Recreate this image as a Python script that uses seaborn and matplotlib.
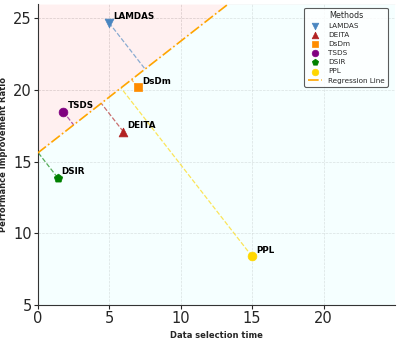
import numpy as np
import pandas as pd
import seaborn as sns
import matplotlib.pyplot as plt

# data
methods = ['LAMDAS', 'DEITA', 'DsDm', 'TSDS', 'DSIR', 'PPL']
sel_time = [5.0, 6.0, 7.0, 1.8, 1.4, 15.0]
perf_ratio = [24.7, 17.1, 20.2, 18.5, 13.9, 8.4]
colors = ['#4a86c0', '#b22222', '#ff8c00', '#800080', '#008000', '#ffd700']
markers = ['v', '^', 's', 'o', 'p', 'o']

# regression line (as drawn)
reg_intercept = 15.6
reg_slope = 0.78

df = pd.DataFrame({'method': methods, 'time': sel_time, 'ratio': perf_ratio})

sns.set_style('ticks')
fig, ax = plt.subplots(figsize=(3.99, 3.39), dpi=100)
fig.subplots_adjust(left=0.094, right=0.99, top=0.988, bottom=0.10)

xmin, xmax = 0, 25
ymin, ymax = 5, 26
xx = np.linspace(xmin, xmax, 200)
yy = reg_intercept + reg_slope * xx

# shaded areas above / below the line
ax.fill_between(xx, yy, ymax, color='red', alpha=0.06, linewidth=0)
ax.fill_between(xx, ymin, yy, color='lightcyan', alpha=0.3, linewidth=0)

# points
for i, row in df.iterrows():
    sns.scatterplot(x=[row.time], y=[row.ratio], marker=markers[i], color=colors[i],
                    s=40, edgecolor=colors[i], linewidth=0.5, label=row.method, ax=ax, zorder=4)
    ax.annotate(row.method, (row.time, row.ratio), xytext=(3, 2.5), textcoords='offset points',
                fontsize=6.3, fontweight='bold', color='black')

# regression line
ax.plot(xx, yy, color='orange', linestyle='-.', linewidth=1.2, label='Regression Line', zorder=3)

# perpendicular projection onto the line
for i, row in df.iterrows():
    t = (row.time + (row.ratio - reg_intercept) * reg_slope) / (1 + reg_slope ** 2)
    fy = reg_intercept + reg_slope * t
    ax.plot([row.time, t], [row.ratio, fy], color=colors[i], linestyle='--',
            linewidth=0.9, alpha=0.65, zorder=2)

ax.set_xlim(xmin, xmax)
ax.set_ylim(ymin, ymax)
ax.set_xticks([0, 5, 10, 15, 20])
ax.set_yticks([5, 10, 15, 20, 25])
ax.tick_params(labelsize=10.5, length=3, width=0.8, pad=1)
ax.grid(True, linestyle='--', linewidth=0.5, color='#cccccc', alpha=0.8)
ax.set_xlabel('Data selection time', fontsize=6, fontweight='bold')
ax.set_ylabel('Performance Improvement Ratio', fontsize=6, fontweight='bold')
sns.despine(ax=ax)
for s in ['left', 'bottom']:
    ax.spines[s].set_color('#333333')

leg = ax.legend(title='Methods', loc='upper right', fontsize=5.2, title_fontsize=5.8,
                frameon=True, edgecolor='#333333', markerscale=0.75, borderpad=0.45,
                labelspacing=0.42, handlelength=2.0, bbox_to_anchor=(0.99, 1.0))
leg.get_frame().set_linewidth(0.8)

plt.savefig('out.png', dpi=100)
